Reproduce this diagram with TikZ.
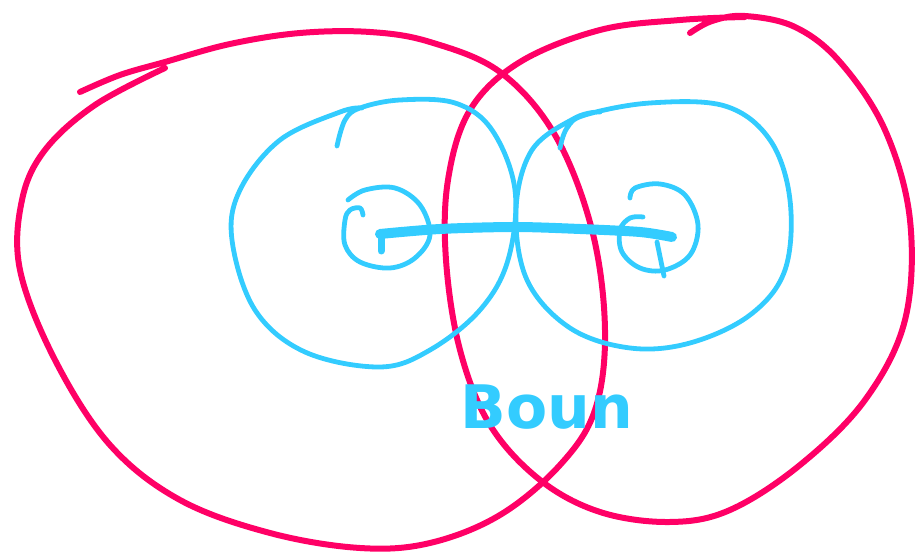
\documentclass[tikz,border=0pt]{standalone}
\usepackage{fontspec}
\setmainfont{DejaVu Sans}
\definecolor{pinkline}{HTML}{FF0066}
\definecolor{cyanline}{HTML}{33CCFF}
\begin{document}
\begin{tikzpicture}[x=0.5pt,y=-0.5pt,line cap=round,line join=round,
  pinkstroke/.style={draw=pinkline,line width=3pt},
  cyanstroke/.style={draw=cyanline,line width=2.4pt},
  barstroke/.style={draw=cyanline,line width=5pt}]
\useasboundingbox (0,0) rectangle (922,555);
% big pink left
\draw[pinkstroke] plot[smooth,tension=0.6] coordinates {(80,92) (120,75) (165,62) (230,44) (300,33) (370,32) (430,42) (500,72) (555,135) (592,230) (605,330) (595,410) (560,465) (500,515) (430,543) (360,548) (270,533) (180,500) (110,445) (55,360) (20,270) (22,200) (45,150) (95,105) (165,68)};
% big pink right
\draw[pinkstroke] plot[smooth,tension=0.6] coordinates {(690,33) (712,21) (745,16) (795,27) (840,62) (885,130) (910,220) (905,320) (865,400) (800,465) (730,510) (670,522) (600,512) (540,480) (490,425) (460,350) (446,260) (448,180) (470,110) (520,62) (600,30) (680,20) (745,17)};
% cyan left big
\draw[cyanstroke] plot[smooth,tension=0.6] coordinates {(337,146) (345,120) (360,108) (400,100) (455,103) (492,130) (515,190) (508,260) (480,310) (430,350) (380,367) (305,352) (255,310) (232,240) (240,190) (280,140) (340,112) (362,108)};
% cyan right big
\draw[cyanstroke] plot[smooth,tension=0.6] coordinates {(560,148) (567,128) (585,115) (650,103) (725,106) (770,140) (790,200) (785,270) (750,315) (690,343) (630,348) (570,328) (527,280) (516,210) (532,150) (575,118) (600,112)};
% small left
\draw[cyanstroke] plot[smooth,tension=0.6] coordinates {(363,215) (360,208) (350,210) (345,220) (345,245) (360,262) (390,268) (415,258) (430,235) (420,205) (395,188) (365,190) (348,200)};
% small right
\draw[cyanstroke] plot[smooth,tension=0.6] coordinates {(643,217) (630,218) (620,230) (622,252) (640,268) (665,270) (690,255) (698,225) (685,195) (660,184) (635,188) (630,198)};
% bar
\draw[barstroke] plot[smooth,tension=0.5] coordinates {(380,234) (440,229) (515,227) (580,229) (640,232) (672,237)};
\draw[cyanstroke,line width=3.5pt] (381,234) -- (381,251);
\draw[cyanstroke] (657,242) -- (664,276);
% label
\node[text=cyanline,font=\fontsize{30}{30}\selectfont\bfseries,anchor=west,inner sep=0pt] (bondlabel) at (460,407) {Boun};
\end{tikzpicture}
\end{document}
